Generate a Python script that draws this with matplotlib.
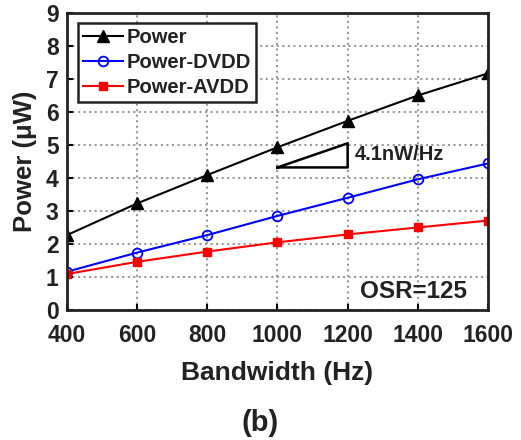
import numpy as np
import matplotlib.pyplot as plt

plt.rcParams['font.family'] = ['Liberation Sans', 'DejaVu Sans']
plt.rcParams['font.weight'] = 'bold'
txt = '#222222'

bandwidth = [400, 600, 800, 1000, 1200, 1400, 1600]
power = [2.27, 3.23, 4.09, 4.93, 5.73, 6.5, 7.17]
power_dvdd = [1.16, 1.74, 2.27, 2.85, 3.4, 3.96, 4.44]
power_avdd = [1.09, 1.46, 1.77, 2.05, 2.29, 2.5, 2.71]

slope_x = [1000, 1200, 1200, 1000]
slope_y = [4.32, 4.32, 5.05, 4.32]

fig = plt.figure(figsize=(5.21, 4.4), dpi=100)
ax = fig.add_axes([0.1286, 0.2955, 0.808, 0.675])

ax.plot(bandwidth, power, color='black', marker='^', markersize=8.5, lw=1.5, label='Power')
ax.plot(bandwidth, power_dvdd, color='blue', marker='o', markersize=7, mfc='none', mew=1.3, lw=1.5, label='Power-DVDD')
ax.plot(bandwidth, power_avdd, color='red', marker='s', markersize=6, lw=1.5, label='Power-AVDD')
ax.plot(slope_x, slope_y, color='black', lw=1.8)

ax.text(1221, 4.7, '4.1nW/Hz', fontsize=14.5, fontweight='bold', va='center', color=txt)
ax.text(1540, 0.55, 'OSR=125', fontsize=17.5, fontweight='bold', va='center', ha='right', color=txt)

ax.set_xlim(400, 1600)
ax.set_ylim(0, 9)
ax.set_xticks(bandwidth)
ax.set_yticks(range(0, 10))
ax.tick_params(labelsize=16.5, width=1.5, direction='in', length=4, labelcolor=txt)
ax.tick_params(axis='y', pad=6)
ax.tick_params(axis='x', pad=10)
for lab in ax.get_xticklabels() + ax.get_yticklabels():
    lab.set_fontweight('bold')
ax.grid(True, linestyle=':', color='#999999', lw=1.5)
for s in ax.spines.values():
    s.set_linewidth(2)
    s.set_color('#222222')

ax.set_xlabel('Bandwidth (Hz)', fontsize=19, fontweight='bold', color=txt)
ax.set_ylabel('Power (\u03bcW)', fontsize=18.5, fontweight='bold', color=txt)
ax.xaxis.set_label_coords(0.5, -0.172)
ax.yaxis.set_label_coords(-0.071, 0.5)

leg = ax.legend(loc='upper left', fontsize=14.5, handlelength=2.0, handletextpad=0.15,
                borderpad=0.25, labelspacing=0.3, fancybox=False, framealpha=1,
                bbox_to_anchor=(0.026, 0.966), borderaxespad=0.0)
leg.get_frame().set_edgecolor('#222222')
leg.get_frame().set_linewidth(1.8)
for t in leg.get_texts():
    t.set_color(txt)

fig.text(0.5, 0.039, '(b)', fontsize=21, fontweight='bold', ha='center', va='center', color=txt)

fig.savefig('out.png', dpi=100)
